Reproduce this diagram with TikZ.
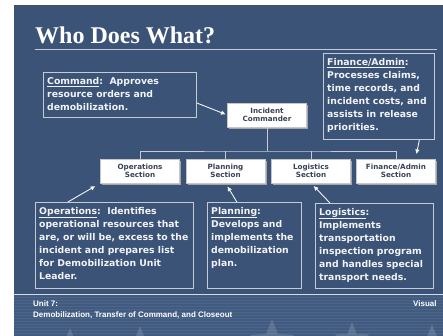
\documentclass[tikz,border=0pt]{standalone}
\usepackage{fontspec}
\setmainfont{Liberation Serif}
\newfontfamily\boxfont{DejaVu Sans}
\newfontfamily\footfont{Liberation Sans}
\usetikzlibrary{arrows.meta,shapes.geometric,shadows}
\definecolor{slideblue}{RGB}{59,83,119}
\definecolor{footblue}{RGB}{64,90,128}
\definecolor{rulegray}{RGB}{196,202,214}
\definecolor{sectink}{RGB}{58,66,86}
\definecolor{notetext}{RGB}{242,243,246}

\begin{document}
\begin{tikzpicture}[x=1pt,y=-1pt,
  notebox/.style={draw=rulegray,line width=0.8pt,anchor=north west,inner sep=0pt},
  notetext/.style={anchor=north west,inner xsep=4pt,inner ysep=5pt,align=left,text=notetext,font=\boxfont\bfseries\fontsize{9.3}{13}\selectfont},
  sectbox/.style={draw=gray!45,fill=white,minimum width=79pt,minimum height=24pt,align=center,text=sectink,font=\boxfont\bfseries\fontsize{7.2}{8.2}\selectfont,drop shadow={shadow xshift=1.6pt,shadow yshift=-1.6pt,fill=gray!70,opacity=1}},
  tree/.style={rulegray,line width=0.9pt},
  callarrow/.style={draw=notetext,line width=0.9pt,-{Triangle[length=4.5pt,width=4pt]}}]
  \useasboundingbox (0,0) rectangle (443,336);
  % Slide background
  \fill[white] (0,0) rectangle (443,336);
  \fill[slideblue] (14,5) rectangle (443,336);
  \draw[gray!60!black,line width=0.8pt] (14,5.4) -- (443,5.4);
  % Footer band with stripes and stars
  \fill[footblue] (14,294) rectangle (443,336);
  \foreach \y in {297,300,...,336}
    \draw[white,opacity=0.07,line width=0.6pt] (14,\y) -- (443,\y);
  \begin{scope}
    \clip (14,294) rectangle (443,336);
    \foreach \sx/\sy/\ss [count=\i] in {70/348/40,140/344/36,272/342/46,352/340/36,432/344/40}
      \node[star,star points=5,star point ratio=2.3,fill=white,opacity=0.15,minimum size=\ss pt,inner sep=0pt] (star\i) at (\sx,\sy) {};
  \end{scope}
  \draw[rulegray!70,line width=0.6pt] (14,294) -- (443,294);
  % Title
  \node[anchor=base west,text=white,font=\fontsize{24}{28}\selectfont\bfseries,inner sep=0pt] (title) at (35,44) {Who Does What?};
  \draw[rulegray,line width=1.3pt] (35,49.5) -- (437,49.5);
  % Org chart boxes
  \node[sectbox] (ic) at (267,115) {Incident\\Commander};
  \node[sectbox] (ops) at (140,171) {Operations\\Section};
  \node[sectbox] (plan) at (225.5,171) {Planning\\Section};
  \node[sectbox] (log) at (311,171) {Logistics\\Section};
  \node[sectbox] (fin) at (396,171) {Finance/Admin\\Section};
  % Tree lines
  \coordinate (bus) at (267,151);
  \draw[tree] (ic.south) -- (bus);
  \draw[tree] (ops.north) |- (bus) -| (fin.north);
  \draw[tree] (plan.north) -- (plan.north |- bus);
  \draw[tree] (log.north) -- (log.north |- bus);
  % Notes
  \node[notebox,minimum width=153pt,minimum height=45pt] (cmdnote) at (43,72) {};
  \node[notetext] (cmdtext) at (cmdnote.north west) {\underline{Command}:\ \ Approves\\resource orders and\\demobilization.};
  \node[notebox,minimum width=111pt,minimum height=86pt] (finnote) at (323,53) {};
  \node[notetext] (fintext) at (finnote.north west) {\underline{Finance/Admin}:\\Processes claims,\\time records, and\\incident costs, and\\assists in release\\priorities.};
  \node[notebox,minimum width=158pt,minimum height=86pt] (opsnote) at (35,202) {};
  \node[notetext] (opstext) at (opsnote.north west) {\underline{Operations}:\ \ Identifies\\operational resources that\\are, or will be, excess to the\\incident and prepares list\\for Demobilization Unit\\Leader.};
  \node[notebox,minimum width=94pt,minimum height=86pt] (plannote) at (207,202) {};
  \node[notetext] (plantext) at (plannote.north west) {\underline{Planning}:\\Develops and\\implements the\\demobilization\\plan.};
  \node[notebox,minimum width=118pt,minimum height=85pt] (lognote) at (315,203) {};
  \node[notetext] (logtext) at (lognote.north west) {\underline{Logistics}:\\Implements\\transportation\\inspection program\\and handles special\\transport needs.};
  % Arrows
  \draw[callarrow,shorten >=2pt] (cmdnote.-6) -- (ic.west);
  \draw[callarrow,shorten >=5pt] (finnote.-47) -- (fin.32);
  \draw[callarrow,shorten >=6pt] (opsnote.137) -- (ops.south west);
  \draw[callarrow,shorten >=4pt] (plannote.112) -- (plan.south);
  \draw[callarrow,shorten >=4pt] (lognote.136) -- (log.south);
  % Footer text
  \node[anchor=base west,text=white,font=\footfont\bfseries\fontsize{8}{10}\selectfont,inner sep=0pt] (unit) at (33,306) {Unit 7:};
  \node[anchor=base west,text=white,font=\footfont\bfseries\fontsize{8}{10}\selectfont,inner sep=0pt] (unitname) at (33,317) {Demobilization, Transfer of Command, and Closeout};
  \node[anchor=base west,text=white,font=\footfont\bfseries\fontsize{8}{10}\selectfont,inner sep=0pt] (visual) at (413,306) {Visual};
\end{tikzpicture}
\end{document}
